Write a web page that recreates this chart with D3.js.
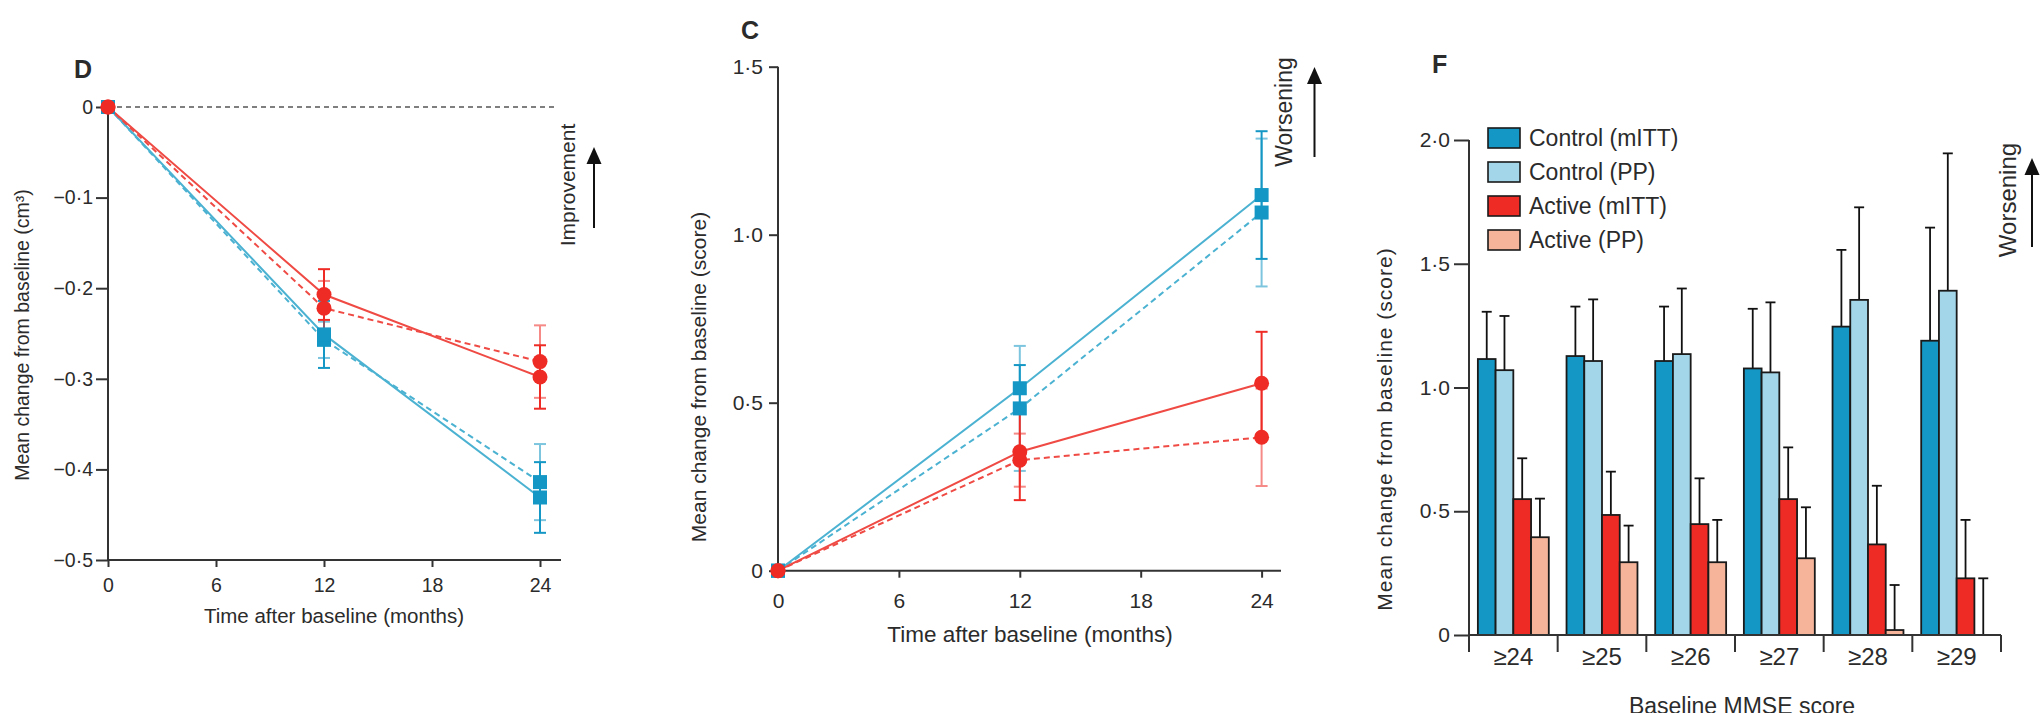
<!DOCTYPE html>
<html>
<head>
<meta charset="utf-8">
<script src="https://cdn.jsdelivr.net/npm/d3@7"></script>
<style>
	body { margin: 0; background: #fff; }
	svg { display: block; font-family: "Liberation Sans", Arial, sans-serif; }
	text { fill: #2b2b2b; }
</style>
</head>
<body>
<svg id="chart" width="2040" height="713"></svg>
<script>
// data
var months = [0, 12, 24];

// D: volume change (cm3)
var volControlMitt = [0, -0.251, -0.431];
var volControlMittErr = [0, 0.037, 0.039];
var volControlPp = [0, -0.257, -0.414];
var volControlPpErr = [0, 0.02, 0.042];
var volActiveMitt = [0, -0.207, -0.298];
var volActiveMittErr = [0, 0.028, 0.035];
var volActivePp = [0, -0.222, -0.281];
var volActivePpErr = [0, 0.03, 0.04];
var volTicks = [0, -0.1, -0.2, -0.3, -0.4, -0.5];

// C: score change
var scoreControlMitt = [0, 0.543, 1.118];
var scoreControlMittErr = [0, 0.069, 0.19];
var scoreControlPp = [0, 0.483, 1.066];
var scoreControlPpErr = [0, 0.186, 0.22];
var scoreActiveMitt = [0, 0.354, 0.558];
var scoreActiveMittErr = [0, 0.144, 0.153];
var scoreActivePp = [0, 0.329, 0.397];
var scoreActivePpErr = [0, 0.079, 0.145];
var scoreTicks = [0, 0.5, 1.0, 1.5];
var monthTicks = [0, 6, 12, 18, 24];

// F: by baseline MMSE
var mmseCats = ['\u226524', '\u226525', '\u226526', '\u226527', '\u226528', '\u226529'];
var barSeries = ['Control (mITT)', 'Control (PP)', 'Active (mITT)', 'Active (PP)'];
var barControlMitt = [1.115, 1.127, 1.107, 1.077, 1.246, 1.189];
var barControlMittErr = [0.191, 0.2, 0.22, 0.241, 0.31, 0.457];
var barControlPp = [1.07, 1.107, 1.135, 1.061, 1.354, 1.391];
var barControlPpErr = [0.219, 0.249, 0.265, 0.283, 0.374, 0.555];
var barActiveMitt = [0.549, 0.485, 0.448, 0.549, 0.366, 0.229];
var barActiveMittErr = [0.165, 0.175, 0.185, 0.209, 0.237, 0.236];
var barActivePp = [0.395, 0.294, 0.294, 0.31, 0.02, 0];
var barActivePpErr = [0.156, 0.148, 0.171, 0.206, 0.182, 0.229];
var barTicks = [0, 0.5, 1.0, 1.5, 2.0];

var BLUE = '#1497c4', BLUE_LINE = '#4cb2d2', BLUE_LIGHT = '#a2d6e8';
var RED = '#ee2b25', RED_LINE = '#ef4a44', SALMON = '#f6b59b';
var AXIS = '#333';

var svg = d3.select('#chart');

function fmt(d) {
	if (d === 0) return '0';
	return (d < 0 ? '\u2212' : '') + Math.abs(d).toFixed(1).replace('.', '\u00b7');
}

function styleAxis(g, size) {
	g.select('.domain').remove();
	g.selectAll('line').attr('stroke', AXIS).attr('stroke-width', 2);
	g.selectAll('text').style('font-size', size + 'px').attr('fill', '#2b2b2b');
}

function arrow(x, yTop, yBottom) {
	svg.append('line')
		.attr('x1', x).attr('x2', x)
		.attr('y1', yBottom).attr('y2', yTop + 10)
		.attr('stroke', '#111').attr('stroke-width', 2);
	svg.append('path')
		.attr('d', 'M' + x + ',' + yTop + 'L' + (x - 7.5) + ',' + (yTop + 17) + 'L' + (x + 7.5) + ',' + (yTop + 17) + 'Z')
		.attr('fill', '#111');
}

function vText(x, y, str, size, extra) {
	var t = svg.append('text')
		.attr('transform', 'translate(' + x + ',' + y + ') rotate(-90)')
		.attr('text-anchor', 'middle')
		.style('font-size', size + 'px')
		.text(str);
	if (extra) t.style('letter-spacing', extra + 'px');
	return t;
}

function lineChart(p) {
	var x = d3.scaleLinear().domain([0, 24]).range(p.xRange),
		y = d3.scaleLinear().domain(p.yDomain).range(p.yRange),
		g = svg.append('g');

	// axes
	g.append('g')
		.attr('transform', 'translate(0,' + p.xAxisY + ')')
		.call(d3.axisBottom(x).tickValues(monthTicks).tickSize(7).tickSizeOuter(0).tickPadding(p.xPad))
		.call(function (a) { styleAxis(a, p.tickFont); });
	g.append('g')
		.attr('transform', 'translate(' + p.xRange[0] + ',0)')
		.call(d3.axisLeft(y).tickValues(p.ticks).tickFormat(fmt).tickSize(p.yTick).tickSizeOuter(0).tickPadding(p.yPad))
		.call(function (a) { styleAxis(a, p.tickFont); });
	g.append('line')
		.attr('x1', p.xRange[0]).attr('x2', p.xEnd)
		.attr('y1', p.xAxisY).attr('y2', p.xAxisY)
		.attr('stroke', AXIS).attr('stroke-width', 2);
	g.append('line')
		.attr('x1', p.xRange[0]).attr('x2', p.xRange[0])
		.attr('y1', d3.min(p.yRange)).attr('y2', d3.max(p.yRange))
		.attr('stroke', AXIS).attr('stroke-width', 2);

	if (p.zeroLine) {
		g.append('line')
			.attr('x1', x(0)).attr('x2', p.xEnd - 4)
			.attr('y1', y(0)).attr('y2', y(0))
			.attr('stroke', '#555').attr('stroke-width', 1.5)
			.attr('stroke-dasharray', '5,4');
	}

	var line = d3.line()
		.x(function (d) { return x(d[0]); })
		.y(function (d) { return y(d[1]); });

	p.series.forEach(function (s) {
		g.append('path')
			.datum(d3.zip(months, s.values))
			.attr('d', line)
			.attr('fill', 'none')
			.attr('stroke', s.line)
			.attr('stroke-width', 2)
			.attr('stroke-dasharray', s.dashed ? '6,4' : null);
	});

	p.series.forEach(function (s) {
		var eb = g.append('g').attr('stroke', s.color).attr('stroke-width', 2)
			.attr('opacity', s.dashed ? 0.55 : 1);
		months.forEach(function (m, i) {
			if (!s.err[i]) return;
			var cx = x(m), lo = y(s.values[i] - s.err[i]), hi = y(s.values[i] + s.err[i]);
			eb.append('line').attr('x1', cx).attr('x2', cx).attr('y1', lo).attr('y2', hi);
			eb.append('line').attr('x1', cx - 6).attr('x2', cx + 6).attr('y1', lo).attr('y2', lo);
			eb.append('line').attr('x1', cx - 6).attr('x2', cx + 6).attr('y1', hi).attr('y2', hi);
		});
	});

	p.series.forEach(function (s) {
		months.forEach(function (m, i) {
			if (s.shape === 'square') {
				g.append('rect')
					.attr('x', x(m) - 7).attr('y', y(s.values[i]) - 7)
					.attr('width', 14).attr('height', 14)
					.attr('fill', s.color);
			} else {
				g.append('circle')
					.attr('cx', x(m)).attr('cy', y(s.values[i]))
					.attr('r', 7.5)
					.attr('fill', s.color);
			}
		});
	});
	return { x: x, y: y };
}

// ---- panel D
lineChart({
	xRange: [108, 540], xEnd: 561, xAxisY: 560,
	yDomain: [-0.5, 0], yRange: [560, 107], ticks: volTicks,
	yTick: 12, yPad: 3, xPad: 11, tickFont: 19.5, zeroLine: true,
	series: [
		{ values: volControlPp, err: volControlPpErr, color: BLUE, line: BLUE_LINE, dashed: true, shape: 'square' },
		{ values: volControlMitt, err: volControlMittErr, color: BLUE, line: BLUE_LINE, dashed: false, shape: 'square' },
		{ values: volActivePp, err: volActivePpErr, color: RED, line: RED_LINE, dashed: true, shape: 'circle' },
		{ values: volActiveMitt, err: volActiveMittErr, color: RED, line: RED_LINE, dashed: false, shape: 'circle' }
	]
});
svg.append('text').attr('x', 74).attr('y', 78).style('font-size', '25px').style('font-weight', 'bold').text('D');
svg.append('text').attr('x', 334).attr('y', 623).attr('text-anchor', 'middle').style('font-size', '20.5px')
	.text('Time after baseline (months)');
vText(29, 335, 'Mean change from baseline (cm\u00b3)', 19.5);
vText(575, 185, 'Improvement', 21);
arrow(594, 147, 228);

// ---- panel C
lineChart({
	xRange: [778, 1261.6], xEnd: 1281, xAxisY: 570.7,
	yDomain: [0, 1.5], yRange: [570.7, 66.7], ticks: scoreTicks,
	yTick: 9, yPad: 6, xPad: 15, tickFont: 21, zeroLine: false,
	series: [
		{ values: scoreControlPp, err: scoreControlPpErr, color: BLUE, line: BLUE_LINE, dashed: true, shape: 'square' },
		{ values: scoreControlMitt, err: scoreControlMittErr, color: BLUE, line: BLUE_LINE, dashed: false, shape: 'square' },
		{ values: scoreActivePp, err: scoreActivePpErr, color: RED, line: RED_LINE, dashed: true, shape: 'circle' },
		{ values: scoreActiveMitt, err: scoreActiveMittErr, color: RED, line: RED_LINE, dashed: false, shape: 'circle' }
	]
});
svg.append('text').attr('x', 741).attr('y', 39).style('font-size', '25px').style('font-weight', 'bold').text('C');
svg.append('text').attr('x', 1030).attr('y', 642).attr('text-anchor', 'middle').style('font-size', '22.5px')
	.text('Time after baseline (months)');
vText(706, 377, 'Mean change from baseline (score)', 21);
vText(1292, 112, 'Worsening', 23);
arrow(1314.5, 67, 157);

// ---- panel F
(function () {
	var x = d3.scaleBand().domain(mmseCats).range([1469, 2001]),
		pad = x.bandwidth() * 0.1,
		xs = d3.scaleBand().domain(barSeries).range([pad, x.bandwidth() - pad]),
		y = d3.scaleLinear().domain([0, 2]).range([635, 140]),
		fills = [BLUE, BLUE_LIGHT, RED, SALMON],
		vals = [barControlMitt, barControlPp, barActiveMitt, barActivePp],
		errs = [barControlMittErr, barControlPpErr, barActiveMittErr, barActivePpErr],
		g = svg.append('g');

	g.append('g')
		.attr('transform', 'translate(1469,0)')
		.call(d3.axisLeft(y).tickValues(barTicks).tickFormat(fmt).tickSize(15).tickSizeOuter(0).tickPadding(4))
		.call(function (a) { styleAxis(a, 21); });
	g.append('line').attr('x1', 1469).attr('x2', 1469).attr('y1', y(2)).attr('y2', y(0))
		.attr('stroke', AXIS).attr('stroke-width', 2);

	var rows = [];
	mmseCats.forEach(function (c, ci) {
		barSeries.forEach(function (s, si) {
			rows.push({ cat: c, s: s, si: si, v: vals[si][ci], e: errs[si][ci] });
		});
	});

	var bars = g.selectAll('.bar').data(rows).enter().append('g').attr('class', 'bar')
		.attr('transform', function (d) { return 'translate(' + (x(d.cat) + xs(d.s)) + ',0)'; });

	bars.append('line')
		.attr('x1', xs.bandwidth() / 2).attr('x2', xs.bandwidth() / 2)
		.attr('y1', function (d) { return y(d.v); })
		.attr('y2', function (d) { return y(d.v + d.e); })
		.attr('stroke', '#111').attr('stroke-width', 1.8);
	bars.append('line')
		.attr('x1', xs.bandwidth() / 2 - 5).attr('x2', xs.bandwidth() / 2 + 5)
		.attr('y1', function (d) { return y(d.v + d.e); })
		.attr('y2', function (d) { return y(d.v + d.e); })
		.attr('stroke', '#111').attr('stroke-width', 1.8);
	bars.filter(function (d) { return d.v > 0; }).append('rect')
		.attr('x', 0).attr('width', xs.bandwidth())
		.attr('y', function (d) { return y(d.v); })
		.attr('height', function (d) { return y(0) - y(d.v); })
		.attr('fill', function (d) { return fills[d.si]; })
		.attr('stroke', '#1a1a1a').attr('stroke-width', 1.8);

	// x axis with ticks at the band edges
	g.append('line').attr('x1', 1469).attr('x2', 2001).attr('y1', y(0)).attr('y2', y(0))
		.attr('stroke', AXIS).attr('stroke-width', 2);
	var edges = mmseCats.map(function (c) { return x(c); }).concat([x.range()[1]]);
	g.selectAll('.edge').data(edges).enter().append('line')
		.attr('x1', function (d) { return d; }).attr('x2', function (d) { return d; })
		.attr('y1', y(0)).attr('y2', y(0) + 17)
		.attr('stroke', AXIS).attr('stroke-width', 2);
	g.selectAll('.cat').data(mmseCats).enter().append('text')
		.attr('x', function (d) { return x(d) + x.bandwidth() / 2; })
		.attr('y', 665)
		.attr('text-anchor', 'middle')
		.style('font-size', '24px')
		.text(function (d) { return d; });

	// legend
	var leg = g.selectAll('.leg').data(barSeries).enter().append('g')
		.attr('transform', function (d, i) { return 'translate(1488,' + (138 + i * 34) + ')'; });
	leg.append('rect').attr('x', 0).attr('y', -10).attr('width', 32).attr('height', 20)
		.attr('fill', function (d, i) { return fills[i]; })
		.attr('stroke', '#1a1a1a').attr('stroke-width', 1.6);
	leg.append('text').attr('x', 41).attr('dy', '0.35em').style('font-size', '23px')
		.text(function (d) { return d; });
})();
svg.append('text').attr('x', 1432).attr('y', 73).style('font-size', '25px').style('font-weight', 'bold').text('F');
svg.append('text').attr('x', 1742).attr('y', 714).attr('text-anchor', 'middle').style('font-size', '23px')
	.text('Baseline MMSE score');
vText(1392, 429, 'Mean change from baseline (score)', 21, 1);
vText(2016, 200, 'Worsening', 24);
arrow(2032, 158, 247);
</script>
</body>
</html>
